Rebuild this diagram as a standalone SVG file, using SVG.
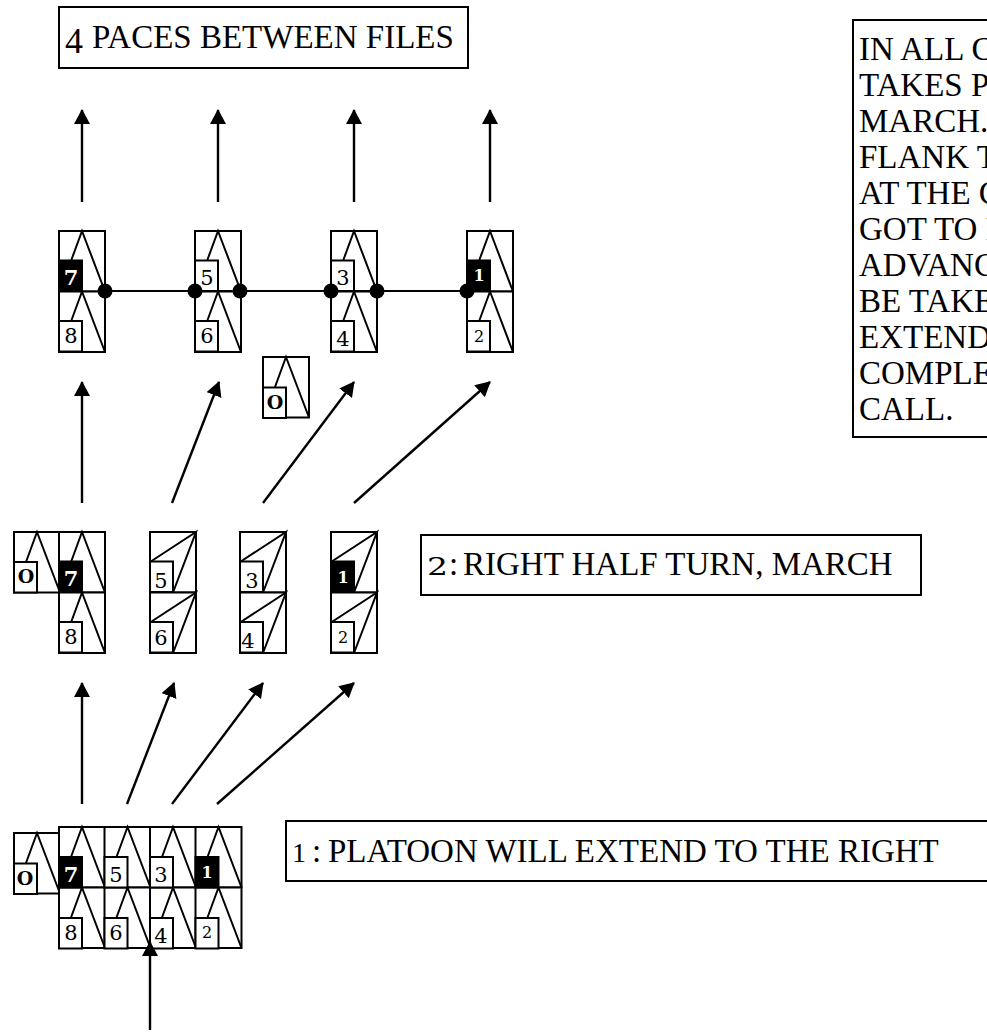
<svg xmlns="http://www.w3.org/2000/svg" xmlns:xlink="http://www.w3.org/1999/xlink" width="987" height="1032" viewBox="0 0 987 1032">
<style>
.l{fill:#fff;stroke:#000;stroke-width:2}
.s{fill:none;stroke:#000;stroke-width:2}
.c{fill:#fff;stroke:#000;stroke-width:2}
.k{fill:#000;stroke:#000;stroke-width:2}
.a{fill:none;stroke:#000;stroke-width:2.4;marker-end:url(#ah)}
.t{font-family:"Liberation Serif","Times New Roman",serif;font-size:33px;fill:#000}
.d{font-family:"DejaVu Serif",serif;font-size:25px}
.n{font-family:"DejaVu Serif",serif;font-size:21px;text-anchor:middle;fill:#000}
.m{font-size:16px}
.w{fill:#fff;font-weight:bold}
.b{font-weight:bold;font-size:19px}
.box{fill:#fff;stroke:#000;stroke-width:2}
</style>
<defs>
<marker id="ah" markerUnits="userSpaceOnUse" markerWidth="17" markerHeight="18" refX="14" refY="8" orient="auto"><path d="M0 0L15 8L0 16Z" fill="#000"/></marker>
<g id="up"><rect class="l" x="0" y="0" width="46" height="60.5"/><path class="s" d="M12 30L23 0L46 60.5"/></g>
<g id="diag"><rect class="l" x="0" y="0" width="46" height="60.5"/><path class="s" d="M0 30L46 0L23 60.5"/></g>
<rect id="nb" class="c" width="23" height="30.5"/>
<rect id="kb" class="k" width="23" height="30.5"/>
</defs>
<g id="label-top"><rect class="box" x="59" y="7" width="409" height="61"/><text class="t" x="65" y="53" style="font-size:36px">4</text><text class="t" x="92" y="48">PACES BETWEEN FILES</text></g>
<g id="label-note"><rect class="box" x="853" y="20" width="160" height="417"/>
<text class="t" x="859" y="60">IN ALL C</text><text class="t" x="859" y="96">TAKES P</text><text class="t" x="859" y="132">MARCH.</text><text class="t" x="859" y="168">FLANK T</text><text class="t" x="859" y="204">AT THE C</text><text class="t" x="859" y="240">GOT TO I</text><text class="t" x="859" y="276">ADVANC</text><text class="t" x="859" y="312">BE TAKE</text><text class="t" x="859" y="348">EXTEND</text><text class="t" x="859" y="384">COMPLE</text><text class="t" x="859" y="420">CALL.</text></g>
<g id="label-2"><rect class="box" x="421" y="535" width="500" height="60"/><text class="t d" x="427" y="575" textLength="21" lengthAdjust="spacingAndGlyphs">2</text><text class="t" x="449" y="575">:</text><text class="t" x="463" y="575">RIGHT HALF TURN, MARCH</text></g>
<g id="label-1"><rect class="box" x="286" y="821" width="711" height="60"/><text class="t" x="292" y="862" style="font-size:28px">1</text><text class="t" x="312" y="862">:</text><text class="t" x="328" y="862">PLATOON WILL EXTEND TO THE RIGHT</text></g>

<g id="step3-officer"><use href="#up" x="263" y="357"/><use href="#nb" x="263" y="387.5"/><text class="n b" x="275" y="409">O</text></g>
<g id="step3-7-8"><use href="#up" x="59" y="231"/><use href="#up" x="59" y="291.5"/><use href="#kb" x="59" y="260.5"/><text class="n w" x="71" y="285">7</text><use href="#nb" x="59" y="321"/><text class="n" x="71" y="343">8</text></g>
<g id="step3-5-6"><use href="#up" x="195" y="231"/><use href="#up" x="195" y="291.5"/><use href="#nb" x="195" y="260.5"/><text class="n" x="207" y="285">5</text><use href="#nb" x="195" y="321"/><text class="n" x="207" y="343">6</text></g>
<g id="step3-3-4"><use href="#up" x="331" y="231"/><use href="#up" x="331" y="291.5"/><use href="#nb" x="331" y="260.5"/><text class="n" x="343" y="285">3</text><use href="#nb" x="331" y="321"/><text class="n" x="343" y="346">4</text></g>
<g id="step3-1-2"><use href="#up" x="467" y="231"/><use href="#up" x="467" y="291.5"/><use href="#kb" x="467" y="260.5"/><text class="n w m" x="479" y="281">1</text><use href="#nb" x="467" y="321"/><text class="n m" x="479" y="342">2</text></g>

<g id="step2-officer"><use href="#up" x="14" y="532"/><use href="#nb" x="14" y="562"/><text class="n b" x="26" y="583">O</text></g>
<g id="step2-7-8"><use href="#up" x="59" y="532"/><use href="#up" x="59" y="592.5"/><use href="#kb" x="59" y="561.5"/><text class="n w" x="71" y="586">7</text><use href="#nb" x="59" y="622"/><text class="n" x="71" y="644">8</text></g>
<g id="step2-5-6"><use href="#diag" x="150" y="532"/><use href="#diag" x="150" y="592.5"/><use href="#nb" x="150" y="561.5"/><text class="n" x="161" y="588">5</text><use href="#nb" x="150" y="622"/><text class="n" x="161" y="645">6</text></g>
<g id="step2-3-4"><use href="#diag" x="240" y="532"/><use href="#diag" x="240" y="592.5"/><use href="#nb" x="240" y="561.5"/><text class="n" x="252" y="588">3</text><use href="#nb" x="240" y="622"/><text class="n" x="248" y="648">4</text></g>
<g id="step2-1-2"><use href="#diag" x="331" y="532"/><use href="#diag" x="331" y="592.5"/><use href="#kb" x="331" y="561.5"/><text class="n w m" x="343" y="583">1</text><use href="#nb" x="331" y="622"/><text class="n m" x="343" y="643">2</text></g>

<g id="step1-officer"><use href="#up" x="14" y="833"/><use href="#nb" x="14" y="863.5"/><text class="n b" x="25" y="885">O</text></g>
<g id="step1-7-8"><use href="#up" x="59" y="827"/><use href="#up" x="59" y="887.5"/><use href="#kb" x="59" y="857"/><text class="n w" x="71" y="882">7</text><use href="#nb" x="59" y="918"/><text class="n" x="71" y="940">8</text></g>
<g id="step1-5-6"><use href="#up" x="104.5" y="827"/><use href="#up" x="104.5" y="887.5"/><use href="#nb" x="104.5" y="857"/><text class="n" x="116" y="882">5</text><use href="#nb" x="104.5" y="918"/><text class="n" x="116" y="940">6</text></g>
<g id="step1-3-4"><use href="#up" x="150" y="827"/><use href="#up" x="150" y="887.5"/><use href="#nb" x="150" y="857"/><text class="n" x="161" y="882">3</text><use href="#nb" x="150" y="918"/><text class="n" x="161" y="943">4</text></g>
<g id="step1-1-2"><use href="#up" x="195.5" y="827"/><use href="#up" x="195.5" y="887.5"/><use href="#kb" x="195.5" y="857"/><text class="n w m" x="207" y="878">1</text><use href="#nb" x="195.5" y="918"/><text class="n m" x="207" y="938">2</text></g>

<g id="connectors">
<path class="a" d="M82 202V110"/><path class="a" d="M218 202V110"/><path class="a" d="M354 202V110"/><path class="a" d="M490 202V110"/>
<path class="a" d="M82 503V382"/><path class="a" d="M172 503L219 382"/><path class="a" d="M263 503L354 382"/><path class="a" d="M354 503L490 382"/>
<path class="a" d="M82 804V683"/><path class="a" d="M127 804L174 683"/><path class="a" d="M172 804L263 683"/><path class="a" d="M217 804L354 683"/>
<path class="a" d="M150 1030V942"/>
<path class="s" d="M105 291H467"/>
<circle cx="105" cy="291" r="7.5"/><circle cx="195" cy="291" r="7.5"/><circle cx="240" cy="291" r="7.5"/><circle cx="331" cy="291" r="7.5"/><circle cx="377" cy="291" r="7.5"/><circle cx="467" cy="291" r="7.5"/>
</g>
</svg>
